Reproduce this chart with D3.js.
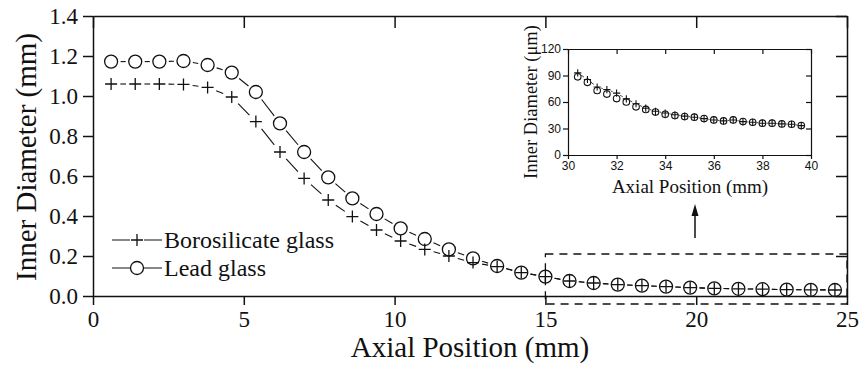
<!DOCTYPE html>
<html>
<head>
<meta charset="utf-8">
<script src="https://cdn.jsdelivr.net/npm/d3@7"></script>
<style>
  body { margin: 0; background: #fff; }
  svg { display: block; }
</style>
</head>
<body>
<svg id="chart" width="859" height="369"></svg>
<script>
// main plot data (axial position in mm, inner diameter in mm)
var mainX = [0.6, 1.4, 2.2, 3.0, 3.8, 4.6, 5.4, 6.2, 7.0, 7.8, 8.6, 9.4, 10.2, 11.0, 11.8, 12.6,
             13.4, 14.2, 15.0, 15.8, 16.6, 17.4, 18.2, 19.0, 19.8, 20.6, 21.4, 22.2, 23.0, 23.8, 24.6];
var boroY = [1.06, 1.06, 1.06, 1.058, 1.043, 0.995, 0.872, 0.72, 0.588, 0.48, 0.397, 0.33, 0.275, 0.233, 0.2, 0.167,
             0.147, 0.117, 0.097, 0.075, 0.065, 0.057, 0.052, 0.047, 0.042, 0.038, 0.036, 0.034, 0.032, 0.031, 0.030];
var leadY = [1.172, 1.172, 1.172, 1.175, 1.155, 1.117, 1.02, 0.863, 0.72, 0.593, 0.488, 0.41, 0.338, 0.285, 0.233, 0.188,
             0.15, 0.117, 0.097, 0.075, 0.065, 0.057, 0.052, 0.047, 0.042, 0.038, 0.036, 0.034, 0.032, 0.031, 0.030];

// inset data (axial position in mm, inner diameter in um)
var insetX = [30.4, 30.8, 31.2, 31.6, 32.0, 32.4, 32.8, 33.2, 33.6, 34.0, 34.4, 34.8,
              35.2, 35.6, 36.0, 36.4, 36.8, 37.2, 37.6, 38.0, 38.4, 38.8, 39.2, 39.6];
var insetBoro = [93, 85.5, 77, 74, 70, 63.5, 58, 53, 49.5, 47.5, 45.5, 44,
                 42.8, 41.2, 39.7, 38.6, 39.7, 37.8, 37.1, 36, 36, 35.2, 34.8, 33.3];
var insetLead = [88.5, 82.3, 73, 69, 63.9, 60.1, 54.5, 51.6, 48.6, 46, 44.6, 43.5,
                 42.8, 41.2, 39.7, 38.6, 39.7, 37.8, 37.1, 36, 36, 35.2, 34.8, 33.3];

var mainXTicks = [0, 5, 10, 15, 20, 25];
var mainYTicks = [0.0, 0.2, 0.4, 0.6, 0.8, 1.0, 1.2, 1.4];
var insetXTicks = [30, 32, 34, 36, 38, 40];
var insetYTicks = [0, 30, 60, 90, 120];
var legendNames = ["Borosilicate glass", "Lead glass"];

var svg = d3.select("#chart");
var ink = "#111";
var SERIF = "'Liberation Serif', 'Times New Roman', serif";
var SANS = "'Liberation Sans', Arial, sans-serif";

// ---------- main plot ----------
var x = d3.scaleLinear().domain([0, 25]).range([93, 847]);
var y = d3.scaleLinear().domain([0, 1.4]).range([296, 16]);

function styleAxis(g, w, font, size) {
  g.attr("font-family", font).attr("font-size", size);
  g.selectAll("path.domain").attr("stroke", ink).attr("stroke-width", w);
  g.selectAll(".tick line").attr("stroke", ink).attr("stroke-width", w);
  g.selectAll(".tick text").attr("fill", ink).style("font-family", font).style("font-size", size + "px");
}

// bottom
var gb = svg.append("g").attr("transform", "translate(0,296)")
  .call(d3.axisBottom(x).tickValues(mainXTicks).tickSizeInner(9).tickSizeOuter(0).tickPadding(6)
    .tickFormat(d3.format("d")));
styleAxis(gb, 1.5, SERIF, 23);
// top
var gt = svg.append("g").attr("transform", "translate(0,16)")
  .call(d3.axisTop(x).tickValues(mainXTicks).tickSizeInner(-12).tickSizeOuter(0).tickFormat(""));
styleAxis(gt, 1.5, SERIF, 23);
// left
var gl = svg.append("g").attr("transform", "translate(93,0)")
  .call(d3.axisLeft(y).tickValues(mainYTicks).tickSizeInner(10).tickSizeOuter(0).tickPadding(5)
    .tickFormat(d3.format(".1f")));
styleAxis(gl, 1.5, SERIF, 23);
// right
var gr = svg.append("g").attr("transform", "translate(847,0)")
  .call(d3.axisRight(y).tickValues(mainYTicks).tickSizeInner(-11).tickSizeOuter(0).tickFormat(""));
styleAxis(gr, 1.5, SERIF, 23);

// axis titles
svg.append("text").style("font-family", SERIF).attr("font-size", 29).attr("fill", ink)
  .attr("x", 470).attr("y", 357).attr("text-anchor", "middle").text("Axial Position (mm)");
svg.append("text").style("font-family", SERIF).attr("font-size", 29).attr("fill", ink)
  .attr("transform", "translate(36,157) rotate(-90)").attr("text-anchor", "middle")
  .text("Inner Diameter (mm)");

// segments between markers, leaving a small gap around each marker
function drawGappedLine(g, sx, sy, xs, ys, gap, w) {
  var pts = xs.map(function(d, i) { return [sx(d), sy(ys[i])]; });
  var line = d3.line();
  for (var i = 0; i < pts.length - 1; i++) {
    var a = pts[i], b = pts[i + 1];
    var dx = b[0] - a[0], dy = b[1] - a[1];
    var len = Math.sqrt(dx * dx + dy * dy);
    if (len <= 2 * gap + 0.5) continue;
    var ux = dx / len, uy = dy / len;
    g.append("path")
      .attr("d", line([[a[0] + ux * gap, a[1] + uy * gap], [b[0] - ux * gap, b[1] - uy * gap]]))
      .attr("stroke", ink).attr("stroke-width", w).attr("fill", "none");
  }
}

function drawPlus(g, cx, cy, s, w) {
  g.append("path")
    .attr("d", "M" + (cx - s) + "," + cy + "H" + (cx + s) + "M" + cx + "," + (cy - s) + "V" + (cy + s))
    .attr("stroke", ink).attr("stroke-width", w).attr("fill", "none");
}

var plot = svg.append("g");
drawGappedLine(plot, x, y, mainX, leadY, 9.5, 1.1);
drawGappedLine(plot, x, y, mainX, boroY, 9.2, 1.1);

plot.selectAll("circle.lead").data(mainX).enter().append("circle")
  .attr("class", "lead")
  .attr("cx", function(d) { return x(d); })
  .attr("cy", function(d, i) { return y(leadY[i]); })
  .attr("r", 6.5).attr("fill", "none").attr("stroke", ink).attr("stroke-width", 1.3);
mainX.forEach(function(d, i) { drawPlus(plot, x(d), y(boroY[i]), 6, 1.3); });

// legend
var legRows = [240, 268];
svg.append("path").attr("d", "M112," + legRows[0] + "H130M144," + legRows[0] + "H162")
  .attr("stroke", ink).attr("stroke-width", 1.2);
drawPlus(svg, 137, legRows[0], 6, 1.3);
svg.append("path").attr("d", "M112," + legRows[1] + "H162")
  .attr("stroke", ink).attr("stroke-width", 1.2);
svg.append("circle").attr("cx", 137).attr("cy", legRows[1]).attr("r", 6.5)
  .attr("fill", "#fff").attr("stroke", ink).attr("stroke-width", 1.3);
legendNames.forEach(function(n, i) {
  svg.append("text").style("font-family", SERIF).attr("font-size", 24).attr("fill", ink)
    .attr("x", 164).attr("y", legRows[i] + 8).text(n);
});

// dashed zoom box over 15-25 mm
svg.append("rect")
  .attr("x", x(15)).attr("y", y(0.21))
  .attr("width", x(25) - x(15)).attr("height", y(-0.04) - y(0.21))
  .attr("fill", "none").attr("stroke", ink).attr("stroke-width", 1.3)
  .attr("stroke-dasharray", "8,6");

// arrow to inset
svg.append("line").attr("x1", 695).attr("y1", 238).attr("x2", 695).attr("y2", 214)
  .attr("stroke", ink).attr("stroke-width", 1.5);
svg.append("path").attr("d", "M695,204L698.5,216L691.5,216Z").attr("fill", ink);

// ---------- inset ----------
var ix = d3.scaleLinear().domain([30, 40]).range([568, 811]);
var iy = d3.scaleLinear().domain([0, 120]).range([155, 49]);

var ib = svg.append("g").attr("transform", "translate(0,155)")
  .call(d3.axisBottom(ix).tickValues(insetXTicks).tickSizeInner(4).tickSizeOuter(0).tickPadding(2));
styleAxis(ib, 1.2, SANS, 12);
var it = svg.append("g").attr("transform", "translate(0,49)")
  .call(d3.axisTop(ix).tickValues(insetXTicks).tickSizeInner(-5).tickSizeOuter(0).tickFormat(""));
styleAxis(it, 1.2, SANS, 12);
var il = svg.append("g").attr("transform", "translate(568,0)")
  .call(d3.axisLeft(iy).tickValues(insetYTicks).tickSizeInner(5).tickSizeOuter(0).tickPadding(2));
styleAxis(il, 1.2, SANS, 12);
var ir = svg.append("g").attr("transform", "translate(811,0)")
  .call(d3.axisRight(iy).tickValues(insetYTicks).tickSizeInner(-5).tickSizeOuter(0).tickFormat(""));
styleAxis(ir, 1.2, SANS, 12);

svg.append("text").style("font-family", SERIF).attr("font-size", 19).attr("fill", ink)
  .attr("x", 690).attr("y", 193).attr("text-anchor", "middle").text("Axial Position (mm)");
svg.append("text").style("font-family", SERIF).attr("font-size", 18.5).attr("fill", ink)
  .attr("transform", "translate(537,102) rotate(-90)").attr("text-anchor", "middle")
  .text("Inner Diameter (\u03bcm)");

var inset = svg.append("g");
drawGappedLine(inset, ix, iy, insetX, insetBoro, 4.2, 0.8);
inset.selectAll("circle").data(insetX).enter().append("circle")
  .attr("cx", function(d) { return ix(d); })
  .attr("cy", function(d, i) { return iy(insetLead[i]); })
  .attr("r", 3.3).attr("fill", "none").attr("stroke", ink).attr("stroke-width", 1.1);
insetX.forEach(function(d, i) { drawPlus(inset, ix(d), iy(insetBoro[i]), 3.6, 1.1); });
</script>
</body>
</html>
